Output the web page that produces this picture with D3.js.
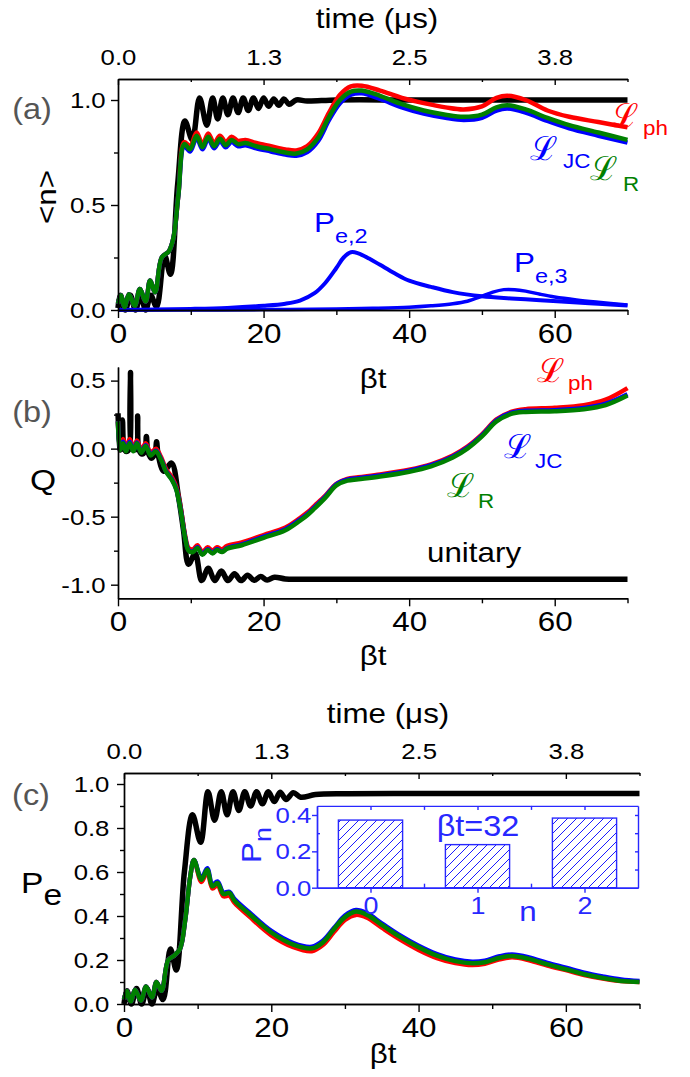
<!DOCTYPE html>
<html>
<head>
<meta charset="utf-8">
<script src="https://cdn.jsdelivr.net/npm/d3@7"></script>
<style>
  body { margin: 0; background: #fff; }
  svg text { font-family: "Liberation Sans", Arial, sans-serif; }
</style>
</head>
<body>
<div id="chart"></div>
<script>
// ---- data ----
const xMajor = [0, 20, 40, 60];
const xMinor = [10, 30, 50, 70];
const timeLabels = ['0.0', '1.3', '2.5', '3.8'];

// panel (a): <n>
const aUnitaryT = [0,0.3,1.0,1.7,2.4,3.1,3.8,4.5,5.3,6.4,7.2,8.2,9.2,10.2,11.2,12.2,13.0,13.7,14.4,15.1,15.8,16.5,17.2,17.9,18.6,19.3,20.0,20.7,21.4,22.1,22.8,23.5,24.5,26,30,40,50,60,70];
const aUnitary = [0.01,0.07,0.0,0.07,0.0,0.07,0.0,0.07,0.015,0.26,0.17,0.6,0.9,0.81,1.01,0.88,1.01,0.91,1.01,0.93,1.01,0.94,1.01,0.95,1.01,0.96,1.01,0.97,1.005,0.975,1.005,0.98,1.0,0.995,1.0,1.0,1.0,1.0,1.0];
const aT = [0,0.4,0.9,1.5,2.3,3.0,3.8,4.4,5.1,6.0,7.0,7.6,8.3,9.1,9.9,10.8,11.6,12.4,13.2,14.0,14.8,15.6,16.5,17.5,19,21,23,24.5,26,27.5,29,30.5,32,33.5,36,39,42,45,47.5,50,52,53.5,56,59,62,66,70];
const aPh = [0.03,0.07,0.015,0.075,0.02,0.1,0.04,0.14,0.085,0.25,0.28,0.34,0.55,0.8,0.78,0.845,0.79,0.84,0.795,0.83,0.8,0.825,0.805,0.81,0.795,0.78,0.765,0.76,0.78,0.84,0.94,1.025,1.065,1.068,1.045,1.01,0.985,0.965,0.955,0.97,1.01,1.02,1.0,0.95,0.92,0.895,0.87];
const aJC = [0.03,0.07,0.015,0.075,0.02,0.1,0.04,0.14,0.085,0.25,0.28,0.34,0.55,0.78,0.755,0.82,0.765,0.815,0.77,0.805,0.775,0.8,0.78,0.785,0.77,0.755,0.74,0.735,0.752,0.805,0.905,0.985,1.025,1.032,1.005,0.965,0.935,0.915,0.905,0.915,0.95,0.96,0.94,0.9,0.865,0.83,0.797];
const aR = [0.03,0.07,0.015,0.075,0.02,0.1,0.04,0.14,0.085,0.25,0.28,0.34,0.55,0.79,0.765,0.83,0.775,0.825,0.78,0.815,0.785,0.81,0.79,0.795,0.78,0.765,0.75,0.745,0.765,0.82,0.92,1.0,1.04,1.045,1.02,0.98,0.95,0.93,0.92,0.93,0.965,0.975,0.955,0.915,0.88,0.845,0.81];
const pe2T = [0,5,10,15,20,23,25,27,28.5,30,31,32,33,34.5,36,38,40,43,46,50,54,58,62,66,70];
const pe2 = [0,0.002,0.005,0.01,0.02,0.03,0.045,0.08,0.13,0.2,0.25,0.275,0.27,0.245,0.215,0.175,0.14,0.11,0.085,0.065,0.055,0.047,0.038,0.03,0.022];
const pe3T = [0,10,20,30,35,40,43,46,48,50,51.5,53,54.5,56,58,60,63,66,70];
const pe3 = [0,0,0.002,0.005,0.008,0.013,0.02,0.03,0.042,0.065,0.085,0.097,0.097,0.09,0.075,0.062,0.048,0.037,0.024];

// panel (b): Q
const bUnitaryT = [0,0.3,0.6,0.9,1.25,1.55,1.72,1.9,2.25,2.55,2.7,2.85,3.3,3.7,3.9,4.1,4.6,5.1,5.3,5.5,6.3,7.35,8.3,9.0,9.7,10.6,11.5,12.4,13.3,14.2,15.1,16.0,16.9,17.8,18.7,19.6,20.5,21.5,23,25,30,40,50,60,70];
const bUnitary = [0.26,-0.01,0.21,-0.01,-0.02,0.0,0.56,0.0,-0.01,0.0,0.24,0.0,-0.04,-0.02,0.09,-0.02,-0.07,-0.03,0.05,-0.04,-0.167,-0.106,-0.35,-0.6,-0.85,-0.77,-0.97,-0.88,-0.97,-0.9,-0.97,-0.92,-0.97,-0.93,-0.968,-0.94,-0.966,-0.945,-0.958,-0.96,-0.96,-0.96,-0.96,-0.96,-0.96];
const bT = [0,0.3,0.7,1.1,1.6,2.1,2.6,3.2,3.8,4.5,5.2,5.9,6.6,7.4,8.0,8.6,9.2,9.7,10.3,10.9,11.6,12.3,13.0,13.6,14.3,15,17,20,23,25,26,27,28.5,30,31.5,33,36,40,43,46,48,50,52,54,56,60,64,67,70];
const bPh = [0.2,0.0,0.07,0.0,0.07,0.0,0.06,-0.01,0.04,-0.03,0.0,-0.06,-0.15,-0.21,-0.28,-0.43,-0.63,-0.73,-0.74,-0.71,-0.76,-0.725,-0.75,-0.725,-0.74,-0.715,-0.69,-0.635,-0.58,-0.51,-0.47,-0.42,-0.345,-0.258,-0.222,-0.21,-0.19,-0.155,-0.115,-0.05,0.015,0.105,0.215,0.27,0.29,0.3,0.32,0.36,0.445];
const bJC = [0.2,-0.005,0.05,-0.015,0.05,-0.015,0.045,-0.025,0.025,-0.045,-0.015,-0.075,-0.165,-0.225,-0.295,-0.445,-0.645,-0.745,-0.755,-0.725,-0.775,-0.74,-0.765,-0.74,-0.755,-0.73,-0.703,-0.647,-0.592,-0.522,-0.482,-0.432,-0.352,-0.262,-0.228,-0.217,-0.197,-0.162,-0.122,-0.057,0.008,0.098,0.208,0.263,0.278,0.283,0.298,0.33,0.4];
const bR = [0.2,-0.01,0.04,-0.02,0.04,-0.02,0.04,-0.03,0.02,-0.05,-0.02,-0.08,-0.17,-0.23,-0.3,-0.45,-0.65,-0.75,-0.76,-0.73,-0.78,-0.745,-0.77,-0.745,-0.76,-0.735,-0.71,-0.655,-0.6,-0.53,-0.49,-0.44,-0.36,-0.27,-0.235,-0.225,-0.205,-0.17,-0.13,-0.065,0.0,0.09,0.2,0.255,0.27,0.275,0.29,0.32,0.39];

// panel (c): Pe
const cUnitaryT = [0,0.4,1.0,1.7,2.4,3.1,3.8,4.5,5.3,6.3,7.1,8.2,9.3,10.4,11.4,12.3,13.2,14.0,14.8,15.6,16.4,17.2,18.0,18.8,19.6,20.4,21.2,22,23,24,26,30,40,50,60,70];
const cUnitary = [0.0,0.06,0.0,0.07,0.0,0.07,0.0,0.07,0.02,0.25,0.155,0.6,0.86,0.735,0.965,0.835,0.965,0.86,0.965,0.88,0.965,0.9,0.965,0.91,0.965,0.92,0.962,0.93,0.96,0.94,0.952,0.956,0.957,0.957,0.957,0.957];
const cT = [0,0.4,0.9,1.5,2.3,3.0,3.8,4.4,5.1,6.0,6.8,7.6,8.3,9.0,9.5,10.5,11.3,12.0,12.7,13.5,14.3,15,17,20,23,25.5,27,28.5,30,31.5,33,35,37.5,40,42.5,45,47.3,49,51,52.7,55,57.5,60,62.5,65,67.5,70];
const cPh = [0.02,0.06,0.01,0.065,0.015,0.08,0.03,0.1,0.06,0.2,0.22,0.25,0.38,0.58,0.655,0.555,0.6,0.525,0.54,0.49,0.492,0.46,0.398,0.312,0.258,0.24,0.268,0.327,0.382,0.405,0.392,0.347,0.293,0.246,0.209,0.186,0.177,0.183,0.203,0.212,0.199,0.175,0.154,0.132,0.116,0.104,0.1];
const cJC = [0.02,0.06,0.01,0.065,0.015,0.08,0.03,0.1,0.06,0.2,0.22,0.25,0.38,0.58,0.655,0.572,0.617,0.542,0.557,0.507,0.51,0.477,0.417,0.332,0.277,0.26,0.287,0.345,0.402,0.427,0.412,0.367,0.312,0.265,0.227,0.202,0.192,0.197,0.217,0.225,0.212,0.187,0.165,0.142,0.125,0.111,0.104];
const cR = [0.02,0.06,0.01,0.065,0.015,0.08,0.03,0.1,0.06,0.2,0.22,0.25,0.38,0.58,0.655,0.565,0.61,0.535,0.55,0.5,0.505,0.47,0.41,0.325,0.27,0.253,0.28,0.34,0.395,0.42,0.405,0.36,0.305,0.258,0.22,0.195,0.185,0.19,0.21,0.218,0.205,0.18,0.158,0.135,0.118,0.105,0.1];

// inset: photon-number distribution at beta t = 32
const insetN = [0, 1, 2];
const insetP = [0.372, 0.237, 0.383];

// ---- drawing ----
const RED = '#ff0000', BLUE = '#0000ff', GREEN = '#008000';
const SX = 1.12; // the figure's lettering is a bit wider than plain Arial
const svg = d3.select('#chart').append('svg')
  .attr('width', 690).attr('height', 1077)
  .style('background', '#fff');

const line = (xs, ys) => d3.line().x(d => xs(d[0])).y(d => ys(d[1])).curve(d3.curveCatmullRom);
function curve(xs, ys, T, V, color, w) {
  svg.append('path')
    .datum(T.map((t, i) => [t, V[i]]))
    .attr('d', line(xs, ys))
    .attr('fill', 'none')
    .attr('stroke', color)
    .attr('stroke-width', w)
    .attr('stroke-linejoin', 'round');
}

function styleAxis(g, fs, color) {
  g.attr('font-family', '"Liberation Sans", Arial, sans-serif');
  g.selectAll('.domain').attr('stroke', color).attr('stroke-width', 1.4);
  g.selectAll('line').attr('stroke', color).attr('stroke-width', 1.4);
  g.selectAll('text').attr('font-size', fs).attr('fill', color)
    .attr('transform', `scale(${SX},1)`);
}

function panelAxes(xs, ys, yMajor, yMinor, yPad, withTop) {
  const y0 = ys.range()[0], x0 = xs.range()[0];
  svg.append('g').attr('transform', `translate(0,${y0})`)
    .call(d3.axisBottom(xs).tickValues(xMajor).tickSize(8).tickPadding(5).tickSizeOuter(0).tickFormat(d3.format('d')))
    .call(g => styleAxis(g, 28, '#000'));
  svg.append('g').attr('transform', `translate(0,${y0})`)
    .call(d3.axisBottom(xs).tickValues(xMinor).tickSize(5).tickSizeOuter(0).tickFormat(''))
    .call(g => styleAxis(g, 28, '#000'));
  svg.append('g').attr('transform', `translate(${x0},0)`)
    .call(d3.axisLeft(ys).tickValues(yMajor).tickSize(7).tickPadding(yPad).tickSizeOuter(0).tickFormat(d => d.toFixed(1)))
    .call(g => styleAxis(g, 23, '#000'));
  svg.append('g').attr('transform', `translate(${x0},0)`)
    .call(d3.axisLeft(ys).tickValues(yMinor).tickSize(4).tickSizeOuter(0).tickFormat(''))
    .call(g => styleAxis(g, 23, '#000'));
  if (withTop) {
    const yt = ys.range()[1];
    svg.append('g').attr('transform', `translate(0,${yt})`)
      .call(d3.axisTop(xs).tickValues(xMajor).tickSize(-6).tickPadding(14).tickSizeOuter(0).tickFormat((d, i) => timeLabels[i]))
      .call(g => styleAxis(g, 23, '#000'));
    svg.append('g').attr('transform', `translate(0,${yt})`)
      .call(d3.axisTop(xs).tickValues(xMinor).tickSize(-3).tickSizeOuter(0).tickFormat(''))
      .call(g => styleAxis(g, 23, '#000'));
  }
}

// text placed at (x,y) and widened about that point
function label(x, y, txt, fs, color, anchor) {
  return svg.append('text')
    .attr('transform', `translate(${x},${y}) scale(${SX},1)`)
    .attr('font-size', fs).attr('fill', color || '#000')
    .attr('text-anchor', anchor || 'start').text(txt);
}
function scriptL(x, y, sub, subX, subY, color) {
  svg.append('text').attr('x', x).attr('y', y)
    .attr('font-family', '"DejaVu Sans", sans-serif').attr('font-size', 33)
    .attr('fill', color).text('\u2112');
  label(subX, subY, sub, 20, color);
}
function subLabel(x, y, main, sub, fs, subFs, dy, color) {
  label(x, y, main, fs, color).append('tspan')
    .attr('font-size', subFs).attr('dy', dy).text(sub);
}

// ===== panel (a) =====
const xA = d3.scaleLinear().domain([0, 70]).range([118, 627.5]);
const yA = d3.scaleLinear().domain([0, 1.1]).range([310, 79]);
curve(xA, yA, aUnitaryT, aUnitary, '#000', 5.5);
curve(xA, yA, pe2T, pe2, BLUE, 4);
curve(xA, yA, pe3T, pe3, BLUE, 3.5);
curve(xA, yA, aT, aPh, RED, 4.5);
curve(xA, yA, aT, aJC, BLUE, 4.5);
curve(xA, yA, aT, aR, GREEN, 4.5);
panelAxes(xA, yA, [0, 0.5, 1.0], [0.25, 0.75], 4, true);

label(377, 28, 'time (\u03bcs)', 28, '#000', 'middle');
label(32, 119, '(a)', 29, '#555', 'middle');
svg.append('text').attr('transform', `translate(56,197) rotate(-90) scale(${SX},1)`)
  .attr('text-anchor', 'middle').attr('font-size', 28).text('<n>');
label(373, 388, '\u03b2t', 28, '#000', 'middle');
scriptL(611, 127, 'ph', 643, 135, RED);
scriptL(530, 160, 'JC', 563, 168, BLUE);
scriptL(590, 180, 'R', 623, 191, GREEN);
subLabel(314, 232, 'P', 'e,2', 28, 21, 11, BLUE);
subLabel(514, 272, 'P', 'e,3', 28, 21, 11, BLUE);

// ===== panel (b) =====
const xB = d3.scaleLinear().domain([0, 70]).range([118, 627.5]);
const yB = d3.scaleLinear().domain([-1.1, 0.6]).range([598.3, 367]);
curve(xB, yB, bUnitaryT, bUnitary, '#000', 5.5);
curve(xB, yB, bT, bPh, RED, 4.5);
curve(xB, yB, bT, bJC, BLUE, 4.5);
curve(xB, yB, bT, bR, GREEN, 4.5);
panelAxes(xB, yB, [-1.0, -0.5, 0.0, 0.5], [-0.75, -0.25, 0.25], 4, false);

label(32, 422, '(b)', 29, '#555', 'middle');
label(43, 490, 'Q', 30, '#000', 'middle');
label(373, 665, '\u03b2t', 28, '#000', 'middle');
label(474, 562, 'unitary', 28, '#000', 'middle');
scriptL(537, 382, 'ph', 568, 390, RED);
scriptL(504, 458, 'JC', 535, 468, BLUE);
scriptL(447, 497, 'R', 478, 508, GREEN);

// ===== panel (c) =====
const xC = d3.scaleLinear().domain([0, 70]).range([124, 639.5]);
const yC = d3.scaleLinear().domain([0, 1.05]).range([1004, 773]);
curve(xC, yC, cUnitaryT, cUnitary, '#000', 5.5);
curve(xC, yC, cT, cPh, RED, 4.5);
curve(xC, yC, cT, cJC, BLUE, 4.5);
curve(xC, yC, cT, cR, GREEN, 4.5);
panelAxes(xC, yC, [0, 0.2, 0.4, 0.6, 0.8, 1.0], [0.1, 0.3, 0.5, 0.7, 0.9], 6, true);

label(388, 723, 'time (\u03bcs)', 28, '#000', 'middle');
label(31, 805, '(c)', 29, '#555', 'middle');
subLabel(21, 893, 'P', 'e', 30, 30, 12, '#000');
label(383, 1063, '\u03b2t', 28, '#000', 'middle');

// ----- inset -----
const IB = '#2828ff';
const xI = d3.scaleLinear().domain([-0.5, 2.5]).range([317, 638]);
const yI = d3.scaleLinear().domain([0, 0.45]).range([887.7, 805.9]);
const defs = svg.append('defs');
defs.append('pattern').attr('id', 'hatch').attr('patternUnits', 'userSpaceOnUse')
  .attr('width', 9).attr('height', 9)
  .append('path').attr('d', 'M-2,2 l4,-4 M0,9 l9,-9 M7,11 l4,-4')
  .attr('stroke', '#0000ff').attr('stroke-width', 0.9);

svg.append('rect').attr('x', xI(-0.5)).attr('y', yI(0.45))
  .attr('width', xI(2.5) - xI(-0.5)).attr('height', yI(0) - yI(0.45))
  .attr('fill', '#fff');
svg.selectAll('rect.bar').data(insetN).enter().append('rect')
  .attr('class', 'bar')
  .attr('x', d => xI(d - 0.3))
  .attr('width', xI(0.3) - xI(-0.3))
  .attr('y', (d, i) => yI(insetP[i]))
  .attr('height', (d, i) => yI(0) - yI(insetP[i]))
  .attr('fill', 'url(#hatch)')
  .attr('stroke', IB).attr('stroke-width', 1.4);

svg.append('g').attr('transform', `translate(0,${yI(0)})`)
  .call(d3.axisBottom(xI).tickValues(insetN).tickSize(5).tickPadding(4).tickSizeOuter(0).tickFormat(d3.format('d')))
  .call(g => styleAxis(g, 24, IB));
svg.append('g').attr('transform', `translate(0,${yI(0)})`)
  .call(d3.axisBottom(xI).tickValues([0.5, 1.5]).tickSize(-4).tickSizeOuter(0).tickFormat(''))
  .call(g => styleAxis(g, 24, IB));
svg.append('g').attr('transform', `translate(0,${yI(0.45)})`)
  .call(d3.axisTop(xI).tickValues([0, 0.5, 1, 1.5, 2]).tickSize(-4).tickSizeOuter(0).tickFormat(''))
  .call(g => styleAxis(g, 24, IB));
svg.append('g').attr('transform', `translate(${xI(-0.5)},0)`)
  .call(d3.axisLeft(yI).tickValues([0, 0.2, 0.4]).tickSize(5).tickPadding(0).tickSizeOuter(0).tickFormat(d => d.toFixed(1)))
  .call(g => styleAxis(g, 23, IB));
svg.append('g').attr('transform', `translate(${xI(-0.5)},0)`)
  .call(d3.axisLeft(yI).tickValues([0.1, 0.3]).tickSize(-3).tickSizeOuter(0).tickFormat(''))
  .call(g => styleAxis(g, 23, IB));
svg.append('g').attr('transform', `translate(${xI(2.5)},0)`)
  .call(d3.axisRight(yI).tickValues([0.1, 0.2, 0.3, 0.4]).tickSize(-3).tickSizeOuter(0).tickFormat(''))
  .call(g => styleAxis(g, 23, IB));

label(478, 836, '\u03b2t=32', 29, IB, 'middle');
label(528, 921, 'n', 28, IB, 'middle');
svg.append('text').attr('transform', `translate(261,863) rotate(-90) scale(${SX},1)`)
  .attr('font-size', 28).attr('fill', IB)
  .text('P').append('tspan').attr('font-size', 24).attr('dy', 10).text('n');
</script>
</body>
</html>
